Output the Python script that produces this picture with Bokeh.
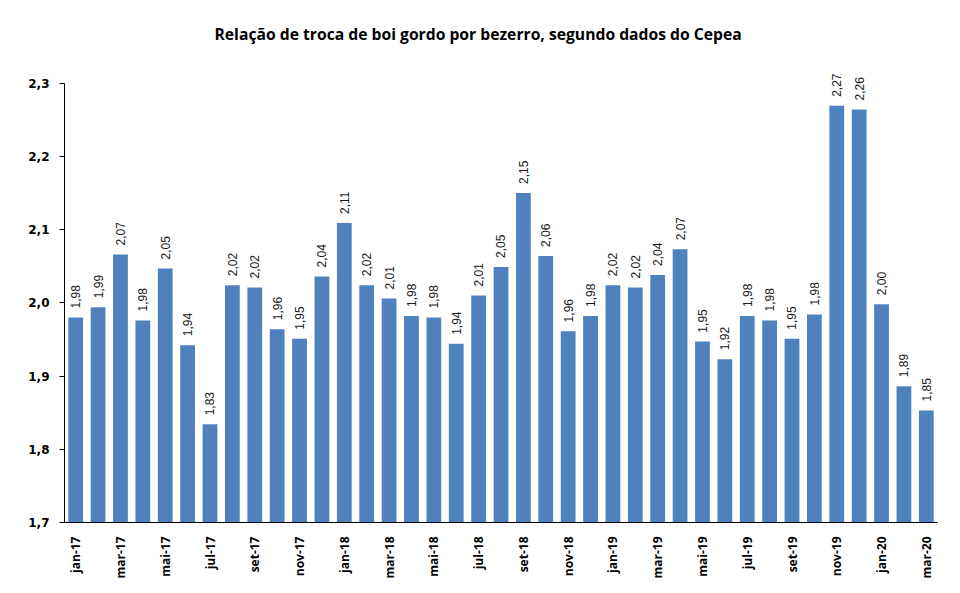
import math
from bokeh.plotting import figure
from bokeh.models import ColumnDataSource, Range1d, FixedTicker, CustomJSTickFormatter, LabelSet
from bokeh.core.properties import value
from bokeh.embed import file_html
from bokeh.resources import INLINE

months = ["jan-17", "fev-17", "mar-17", "abr-17", "mai-17", "jun-17", "jul-17", "ago-17",
          "set-17", "out-17", "nov-17", "dez-17", "jan-18", "fev-18", "mar-18", "abr-18",
          "mai-18", "jun-18", "jul-18", "ago-18", "set-18", "out-18", "nov-18", "dez-18",
          "jan-19", "fev-19", "mar-19", "abr-19", "mai-19", "jun-19", "jul-19", "ago-19",
          "set-19", "out-19", "nov-19", "dez-19", "jan-20", "fev-20", "mar-20"]
ratios = [1.980, 1.994, 2.066, 1.976, 2.047, 1.942, 1.834, 2.024, 2.021, 1.964, 1.951, 2.036,
          2.109, 2.024, 2.006, 1.982, 1.980, 1.944, 2.010, 2.049, 2.150, 2.064, 1.961, 1.982,
          2.024, 2.021, 2.038, 2.073, 1.947, 1.923, 1.982, 1.976, 1.951, 1.984, 2.269, 2.264,
          1.998, 1.886, 1.853]
y_ticks = [1.7, 1.8, 1.9, 2.0, 2.1, 2.2, 2.3]

idx = list(range(len(months)))
labels = [f"{v:.2f}".replace(".", ",") for v in ratios]
src = ColumnDataSource(dict(x=idx, top=ratios, label=labels))

# frame extends a little above 2,3 so the top value labels are not clipped;
# the y axis line itself is bounded to 1,7 .. 2,3
p = figure(width=960, height=593, output_backend="svg", toolbar_location=None,
           x_range=Range1d(-0.5, len(months) - 0.5), y_range=Range1d(1.7, 2.35),
           min_border_left=64, min_border_right=23, min_border_top=46, min_border_bottom=71)
p.outline_line_color = None
p.xgrid.visible = False
p.ygrid.visible = False
p.background_fill_color = "white"
p.border_fill_color = "white"

p.vbar(x="x", top="top", bottom=1.7, width=0.66, source=src,
       fill_color="#4F81BD", line_color=None)
bar_labels = LabelSet(x="x", y="top", text="label", source=src, angle=math.pi / 2,
                      text_align="left", text_baseline="middle", y_offset=9,
                      text_font=value("Liberation Sans"), text_font_size=value("12px"),
                      text_color="#1a1a1a")
p.add_layout(bar_labels)

p.title.text = "Relação de troca de boi gordo por bezerro, segundo dados do Cepea"
p.title.align = "left"
p.title.text_font = "Open Sans"
p.title.text_font_style = "bold"
p.title.text_font_size = "15.7px"
p.title.text_color = "black"
p.title.standoff = 4
p.title.offset = 150

xa = p.xaxis[0]
xa.ticker = FixedTicker(ticks=idx[::2])
xa.major_label_overrides = {i: months[i] for i in idx}
xa.major_label_orientation = math.pi / 2
xa.major_tick_line_color = None
xa.minor_tick_line_color = None
xa.axis_line_color = "black"
xa.major_label_text_font = "Open Sans"
xa.major_label_text_font_style = "bold"
xa.major_label_text_font_size = "12px"
xa.major_label_text_color = "black"
xa.major_label_standoff = 8

ya = p.yaxis[0]
ya.bounds = (1.7, 2.3)
ya.ticker = FixedTicker(ticks=y_ticks)
ya.formatter = CustomJSTickFormatter(code="return tick.toFixed(1).replace('.', ',');")
ya.major_tick_in = 0
ya.major_tick_out = 5
ya.minor_tick_line_color = None
ya.axis_line_color = "black"
ya.major_tick_line_color = "black"
ya.major_label_text_font = "DejaVu Sans"
ya.major_label_text_font_style = "bold"
ya.major_label_text_font_size = "12px"
ya.major_label_text_color = "black"
ya.major_label_standoff = 10

open("out.html", "w").write(file_html(p, INLINE))
